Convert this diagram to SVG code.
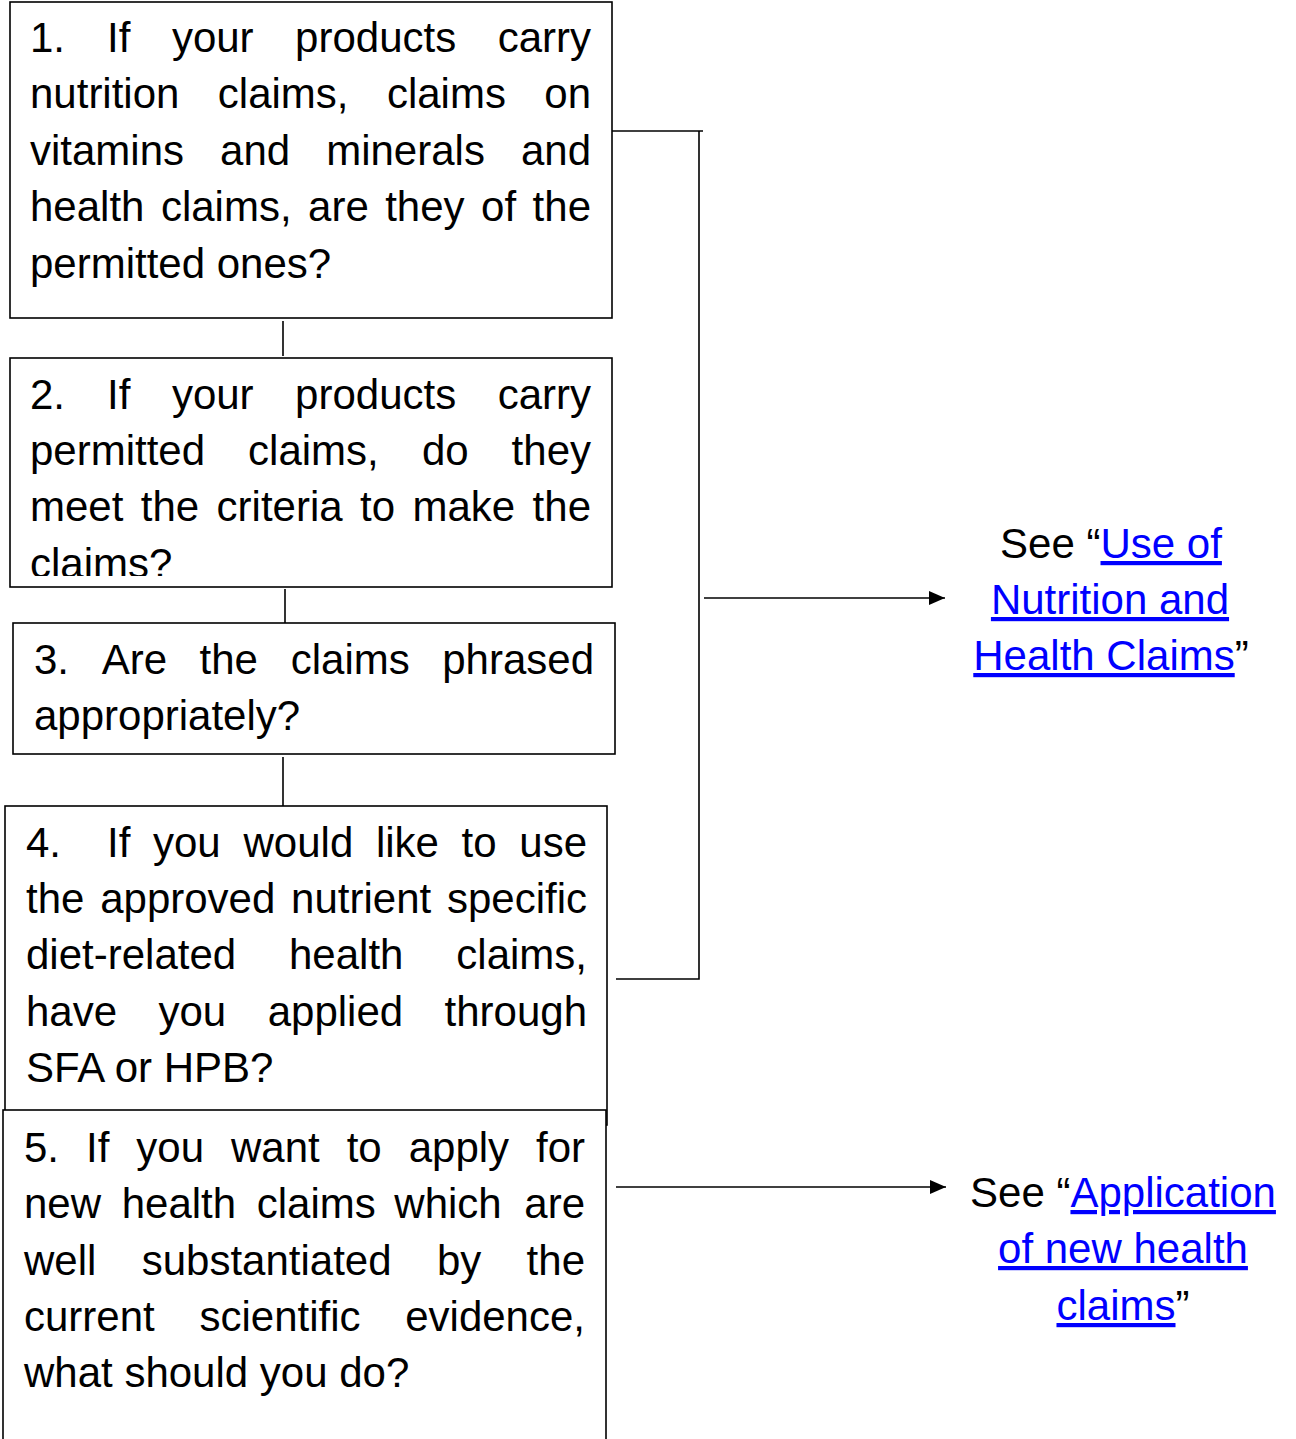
<svg xmlns="http://www.w3.org/2000/svg" width="1296" height="1439" viewBox="0 0 1296 1439">
<style>
.box{fill:#fff;stroke:#000;stroke-width:1.6}
.t{font-family:"Liberation Sans",Arial,sans-serif;font-size:42px;fill:#000}
.e{text-anchor:end}
.c{text-anchor:middle}
.lk{fill:#0000ff;text-decoration:underline}
.ln{stroke:#000;stroke-width:1.6;fill:none}
</style>
<defs>
<marker id="ah" markerWidth="16" markerHeight="14" refX="16" refY="7" orient="auto" markerUnits="userSpaceOnUse">
<path d="M0,0 L16,7 L0,14 Z" fill="#000"/>
</marker>
<clipPath id="clip2"><rect x="10" y="358" width="602" height="218"/></clipPath>
</defs>
<rect width="1296" height="1439" fill="#fff"/>
<g id="connectors">
<line class="ln" x1="283" y1="321" x2="283" y2="356"/>
<line class="ln" x1="285" y1="589" x2="285" y2="623"/>
<line class="ln" x1="283" y1="757" x2="283" y2="806"/>
<polyline class="ln" points="612,131 703,131"/>
<polyline class="ln" points="699,131 699,979 616,979"/>
<line class="ln" x1="704" y1="598" x2="945" y2="598" marker-end="url(#ah)"/>
<line class="ln" x1="616" y1="1187" x2="946" y2="1187" marker-end="url(#ah)"/>
</g>
<g id="node1">
<rect class="box" x="10" y="2" width="602" height="316"/>
<text class="t" y="52"><tspan x="30">1.</tspan><tspan x="107">If</tspan><tspan x="171.9">your</tspan><tspan x="295.1">products</tspan><tspan x="591" class="e">carry</tspan></text>
<text class="t" y="108"><tspan x="30">nutrition</tspan><tspan x="217.8">claims,</tspan><tspan x="386.9">claims</tspan><tspan x="591" class="e">on</tspan></text>
<text class="t" y="165"><tspan x="30">vitamins</tspan><tspan x="220.1">and</tspan><tspan x="326.2">minerals</tspan><tspan x="591" class="e">and</tspan></text>
<text class="t" y="221"><tspan x="30">health</tspan><tspan x="160.9">claims,</tspan><tspan x="308.1">are</tspan><tspan x="385.2">they</tspan><tspan x="481.1">of</tspan><tspan x="591" class="e">the</tspan></text>
<text class="t" y="278" x="30">permitted ones?</text>
</g>
<g id="node2">
<rect class="box" x="10" y="358" width="602" height="229"/>
<g clip-path="url(#clip2)">
<text class="t" y="409"><tspan x="30">2.</tspan><tspan x="107">If</tspan><tspan x="171.9">your</tspan><tspan x="295.1">products</tspan><tspan x="591" class="e">carry</tspan></text>
<text class="t" y="465"><tspan x="30">permitted</tspan><tspan x="248.1">claims,</tspan><tspan x="421.9">do</tspan><tspan x="591" class="e">they</tspan></text>
<text class="t" y="521"><tspan x="30">meet</tspan><tspan x="140.8">the</tspan><tspan x="216.6">criteria</tspan><tspan x="360">to</tspan><tspan x="412.5">make</tspan><tspan x="591" class="e">the</tspan></text>
<text class="t" y="578" x="30">claims?</text>
</g>
</g>
<g id="node3">
<rect class="box" x="13" y="623" width="602" height="131"/>
<text class="t" y="674"><tspan x="34">3.</tspan><tspan x="101.7">Are</tspan><tspan x="199.6">the</tspan><tspan x="290.7">claims</tspan><tspan x="594" class="e">phrased</tspan></text>
<text class="t" y="730" x="34">appropriately?</text>
</g>
<g id="node4">
<rect class="box" x="5" y="806" width="602" height="319"/>
<text class="t" y="857"><tspan x="26">4.</tspan><tspan x="107">If</tspan><tspan x="153">you</tspan><tspan x="243.5">would</tspan><tspan x="375.9">like</tspan><tspan x="461.6">to</tspan><tspan x="587" class="e">use</tspan></text>
<text class="t" y="913"><tspan x="26">the</tspan><tspan x="100.2">approved</tspan><tspan x="291.1">nutrient</tspan><tspan x="587" class="e">specific</tspan></text>
<text class="t" y="969"><tspan x="26">diet-related</tspan><tspan x="289">health</tspan><tspan x="587" class="e">claims,</tspan></text>
<text class="t" y="1026"><tspan x="26">have</tspan><tspan x="158.5">you</tspan><tspan x="267.7">applied</tspan><tspan x="587" class="e">through</tspan></text>
<text class="t" y="1082" x="26">SFA or HPB?</text>
</g>
<g id="node5">
<rect class="box" x="3" y="1110" width="603" height="340"/>
<text class="t" y="1162"><tspan x="24">5.</tspan><tspan x="86">If</tspan><tspan x="136.3">you</tspan><tspan x="231">want</tspan><tspan x="346.7">to</tspan><tspan x="408.7">apply</tspan><tspan x="585" class="e">for</tspan></text>
<text class="t" y="1218"><tspan x="24">new</tspan><tspan x="121.7">health</tspan><tspan x="256.7">claims</tspan><tspan x="394.3">which</tspan><tspan x="585" class="e">are</tspan></text>
<text class="t" y="1275"><tspan x="24">well</tspan><tspan x="141.7">substantiated</tspan><tspan x="436.9">by</tspan><tspan x="585" class="e">the</tspan></text>
<text class="t" y="1331"><tspan x="24">current</tspan><tspan x="199.5">scientific</tspan><tspan x="585" class="e">evidence,</tspan></text>
<text class="t" y="1387" x="24">what should you do?</text>
</g>
<g id="node6">
<text class="t c" x="1111" y="558">See “<tspan class="lk">Use of</tspan></text>
<text class="t c" x="1110" y="614"><tspan class="lk">Nutrition and</tspan></text>
<text class="t c" x="1111" y="670"><tspan class="lk">Health Claims</tspan>”</text>
</g>
<g id="node7">
<text class="t c" x="1123" y="1207">See “<tspan class="lk">Application</tspan></text>
<text class="t c" x="1123" y="1263"><tspan class="lk">of new health</tspan></text>
<text class="t c" x="1123" y="1320"><tspan class="lk">claims</tspan>”</text>
</g>
</svg>
